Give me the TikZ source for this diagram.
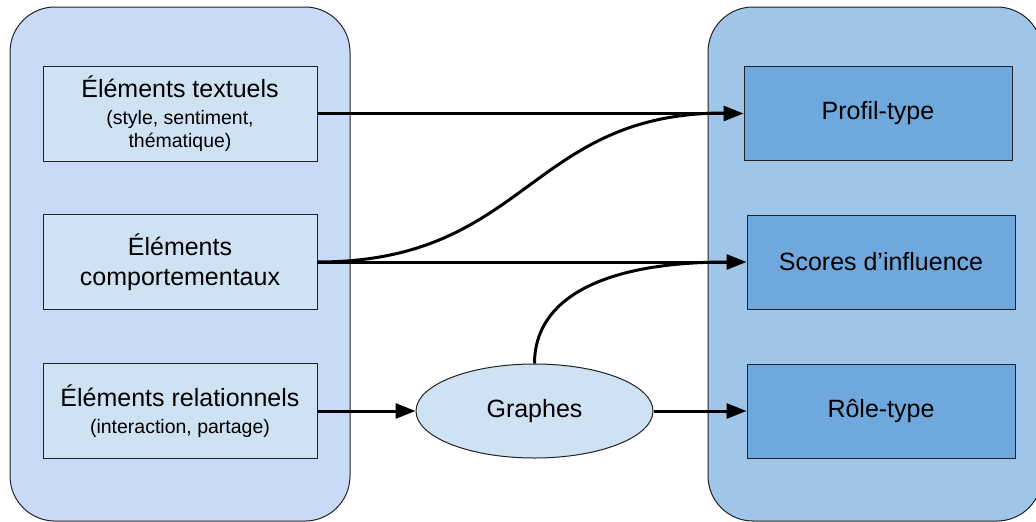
\documentclass[tikz,border=0pt]{standalone}
\usepackage{fontspec}
\setmainfont{Liberation Sans}
\usetikzlibrary{arrows.meta,shapes.geometric,calc}
\definecolor{leftbg}{HTML}{C9DAF8}
\definecolor{rightbg}{HTML}{9FC5E8}
\definecolor{lightbox}{HTML}{CFE2F3}
\definecolor{darkbox}{HTML}{6FA8DC}
\definecolor{edge}{HTML}{222222}
\begin{document}
\begin{tikzpicture}[x=1pt,y=-1pt,
 container/.style={draw=edge, line width=1pt, rounded corners=45pt},
 srcbox/.style={draw=edge, line width=1pt, fill=lightbox, minimum width=274pt, minimum height=95pt, inner sep=0pt, align=center},
 outbox/.style={draw=edge, line width=1pt, fill=darkbox, minimum width=268pt, minimum height=94pt, inner sep=0pt, align=center, font=\fontsize{25}{30}\selectfont},
 bigtext/.style={font=\fontsize{25}{30}\selectfont},
 smalltext/.style={font=\fontsize{19.5}{23}\selectfont},
 conn/.style={line width=3pt, -{Triangle[length=20pt,width=15pt]}},
 bare/.style={line width=3pt}
]
\useasboundingbox (0,0) rectangle (1036,522);
\clip (0,0) rectangle (1036,522);
\draw[container, fill=leftbg] (10,7) rectangle (350,521);
\draw[container, fill=rightbg] (708,7) rectangle (1042,521);

\node[srcbox, smalltext] (t) at (180,113.5) {{\fontsize{25}{30}\selectfont Éléments textuels}\\[4pt](style, sentiment,\\thématique)};
\node[srcbox, bigtext] (c) at (180,262) {Éléments\\comportementaux};
\node[srcbox, smalltext] (r) at (180,411) {{\fontsize{25}{30}\selectfont Éléments relationnels}\\[4pt](interaction, partage)};

\node[outbox] (p) at (878,113) {Profil-type};
\node[outbox] (s) at (881,262) {Scores d’influence};
\node[outbox] (o) at (881,411) {Rôle-type};

\node[draw=edge, line width=1pt, fill=lightbox, ellipse, minimum width=237pt, minimum height=94pt, inner sep=0pt, bigtext] (g) at (534.5,411) {Graphes};

\coordinate (pin) at ($(p.west)+(-19pt,0)$);
\coordinate (sin) at ($(s.west)+(-19pt,0)$);

\draw[bare] (c.east) .. controls +(210,0) and +(-196,0) .. (pin);
\draw[bare] (g.north) .. controls +(0,-64) and +(-127,0) .. (sin);
\draw[conn] (t.east) -- (t.east -| p.west);
\draw[conn] (c.east) -- (c.east -| s.west);
\draw[conn] (r.east) -- (g.west);
\draw[conn] (g.east) -- (g.east -| o.west);
\end{tikzpicture}
\end{document}
